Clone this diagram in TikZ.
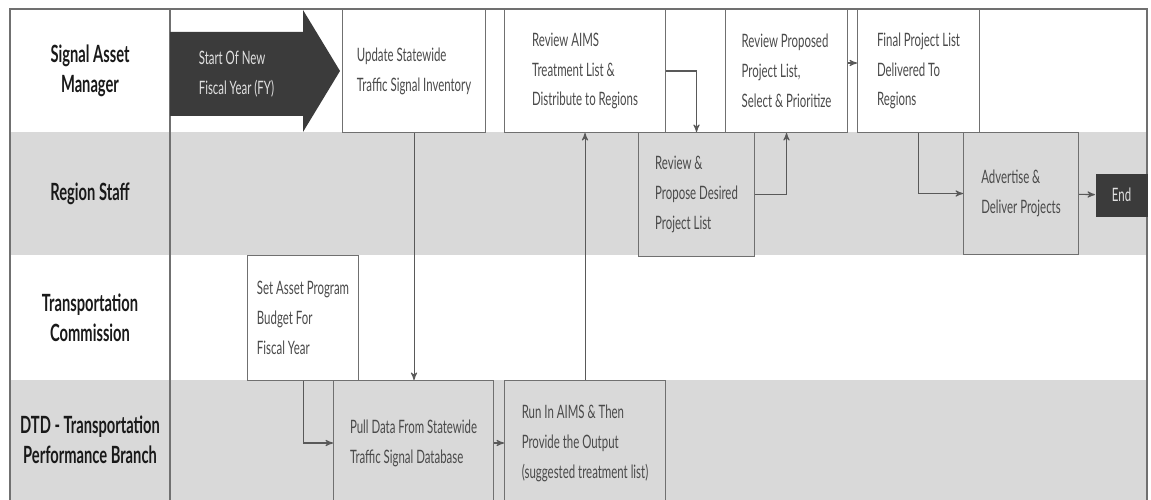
\documentclass[tikz,border=0pt]{standalone}
\usepackage{fontspec}
\setmainfont{Lato}[FakeStretch=0.62]
\usetikzlibrary{arrows}
\definecolor{lanegray}{HTML}{D9D9D9}
\definecolor{darkbox}{HTML}{3B3B3B}
\definecolor{linegray}{HTML}{707070}
\definecolor{textgray}{HTML}{4A4A4A}

\begin{document}
\begin{tikzpicture}[>=stealth', align=left,
    task/.style={rectangle, draw=linegray, line width=0.6pt, anchor=north west,
        inner sep=0pt, text=textgray, font=\fontsize{10.5}{17}\selectfont},
    lane/.style={align=center, text=black!90,
        font=\bfseries\fontsize{13.5}{17}\selectfont},
    flow/.style={draw=black!65, line width=0.6pt, ->}]
    \useasboundingbox (0,0) rectangle (23.02,10);
    % swimlanes
    \fill[lanegray] (0.2,7.36) rectangle (22.94,4.90);
    \fill[lanegray] (0.2,2.40) rectangle (22.94,0);
    \draw[linegray, line width=0.7pt] (0.2,0) |- (22.94,9.82) -- (22.94,0);
    \draw[linegray, line width=0.7pt] (3.4,0) -- (3.4,9.82);
    \node[lane] (sam) at (1.8,8.59) {Signal Asset\\Manager};
    \node[lane] (staff) at (1.8,6.13) {Region Staff};
    \node[lane] (comm) at (1.8,3.65) {Transportation\\Commission};
    \node[lane] (dtd) at (1.8,1.20) {DTD - Transportation\\Performance Branch};
    % start arrow
    \fill[darkbox] (3.4,9.36) -- (6.06,9.36) -- (6.06,9.8) -- (6.8,8.58)
        -- (6.06,7.36) -- (6.06,7.68) -- (3.4,7.68) -- cycle;
    \node[text=white!88!black, font=\fontsize{10.5}{17}\selectfont] (start)
        at (4.73,8.52) {Start Of New\\Fiscal Year (FY)};
    % tasks
    \node[task, minimum width=2.86cm, minimum height=2.46cm] (update) at (6.84,9.82)
        {Update Statewide\\Traffic Signal Inventory};
    \node[task, minimum width=3.22cm, minimum height=2.46cm] (aims) at (10.08,9.82)
        {Review AIMS\\Treatment List \&\\Distribute to Regions};
    \node[task, minimum width=2.44cm, minimum height=2.46cm] (select) at (14.50,9.82)
        {Review Proposed\\Project List,\\Select \& Prioritize};
    \node[task, minimum width=2.44cm, minimum height=2.46cm] (final) at (17.14,9.82)
        {Final Project List\\Delivered To\\Regions};
    \node[task, fill=lanegray, minimum width=2.32cm, minimum height=2.48cm] (propose)
        at (12.76,7.36) {Review \&\\Propose Desired\\Project List};
    \node[task, fill=lanegray, minimum width=2.30cm, minimum height=2.44cm] (advertise)
        at (19.26,7.36) {Advertise \&\\Deliver Projects};
    \node[task, fill=darkbox, draw=none, text=white!88!black, minimum width=1.04cm,
        minimum height=0.86cm] (endbox) at (21.90,6.54) {End};
    \node[task, minimum width=2.22cm, minimum height=2.50cm] (budget) at (4.94,4.90)
        {Set Asset Program\\Budget For\\Fiscal Year};
    \node[task, fill=lanegray, minimum width=3.20cm, minimum height=2.50cm] (pull)
        at (6.66,2.40) {Pull Data From Statewide\\Traffic Signal Database};
    \node[task, fill=lanegray, minimum width=3.22cm, minimum height=2.50cm] (run)
        at (10.08,2.40) {Run In AIMS \& Then\\Provide the Output\\(suggested treatment list)};
    % connectors
    \path (update.south) edge[flow] (update.south |- pull.north)
          (pull) edge[flow] (run)
          (run.north) edge[flow] (run.north |- aims.south)
          (advertise) edge[flow] (endbox);
    \draw[flow] (budget.south) |- (pull.west);
    \draw[flow] (aims.east) -| (propose.north);
    \draw[flow] (propose.east) -| (select.south);
    \draw[flow] ([yshift=0.16cm]select.east) -- ([yshift=0.16cm]final.west);
    \draw[flow] (final.south) |- (advertise.west);
\end{tikzpicture}
\end{document}
